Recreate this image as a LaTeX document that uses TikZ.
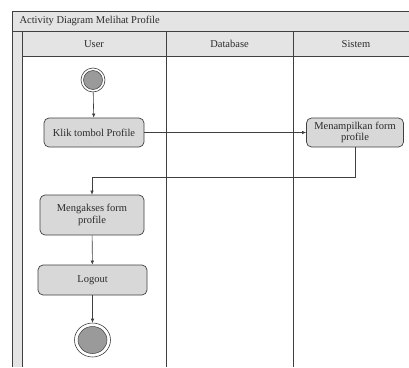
\documentclass[tikz,border=0pt]{standalone}
\usepackage{fontspec}
\setmainfont{Liberation Serif}
\usetikzlibrary{arrows.meta,shapes.geometric}
\definecolor{edge}{HTML}{404040}
\definecolor{barfill}{HTML}{E4E4E4}
\definecolor{boxfill}{HTML}{D8D8D8}
\definecolor{dotfill}{HTML}{9A9A9A}
\definecolor{ink}{HTML}{2A2A2A}
\begin{document}
\begin{tikzpicture}[x=1pt,y=-1pt,
  font=\fontsize{10.5}{12}\selectfont,
  lane/.style={draw=edge,line width=0.9pt},
  rule/.style={draw=edge,line width=0.7pt},
  action/.style={draw=edge,line width=0.7pt,fill=boxfill,rounded corners=5pt,
    text=ink,align=center,inner sep=2pt},
  flow/.style={draw=edge,line width=0.6pt,-{Latex[length=4pt,width=3.5pt]}},
  ring/.style={ellipse,draw=edge,line width=0.6pt,fill=white,inner sep=0pt},
  dot/.style={ellipse,draw=edge,line width=0.5pt,fill=dotfill,inner sep=0pt}]
\useasboundingbox (0,0) rectangle (409,367);

% frame, title bar and lane headers
\fill[barfill] (12,11) rectangle (409,56);
\fill[barfill] (12,31) rectangle (22,367);
\fill[white] (22,56) rectangle (409,367);
\draw[rule] (409,11) -- (12,11) -- (12,367);
\draw[rule] (12,31) -- (409,31);
\draw[rule] (22,56) -- (409,56);
\draw[lane] (22,31) -- (22,367);
\draw[lane] (166,31) -- (166,367);
\draw[lane] (293,31) -- (293,367);

\node[anchor=west,text=ink] (title) at (16,21) {Activity Diagram Melihat Profile};
\node[text=ink] (hUser) at (94,44) {User};
\node[text=ink] (hDb) at (229.5,44) {Database};
\node[text=ink] (hSis) at (356,44) {Sistem};

% initial node
\node[ring,minimum size=24pt] (start) at (93,80) {};
\node[dot,minimum size=19pt] (startIn) at (start.center) {};

% actions
\node[action,minimum width=100pt,minimum height=29pt] (klik) at (94,132.5) {Klik tombol Profile};
\node[action,minimum width=97pt,minimum height=29pt,font=\fontsize{10.5}{11}\selectfont] (tampil) at (355,132.5) {Menampilkan form\\profile};
\node[action,minimum width=104pt,minimum height=40pt] (akses) at (92,215) {Mengakses form\\profile};
\node[action,minimum width=109pt,minimum height=30pt] (logout) at (92.5,280) {Logout};

% final node
\node[ring,minimum width=36pt,minimum height=34pt] (final) at (92.5,340) {};
\node[dot,minimum width=29pt,minimum height=27pt] (finalIn) at (final.center) {};

% control flow
\draw[flow] (start) -- (klik);
\draw[flow] (klik) -- (tampil);
\draw[flow] (tampil.south) -- ++(0,30) -| (akses.north);
\draw[flow] (akses) -- (logout);
\draw[flow] (logout) -- (final);
\end{tikzpicture}
\end{document}
